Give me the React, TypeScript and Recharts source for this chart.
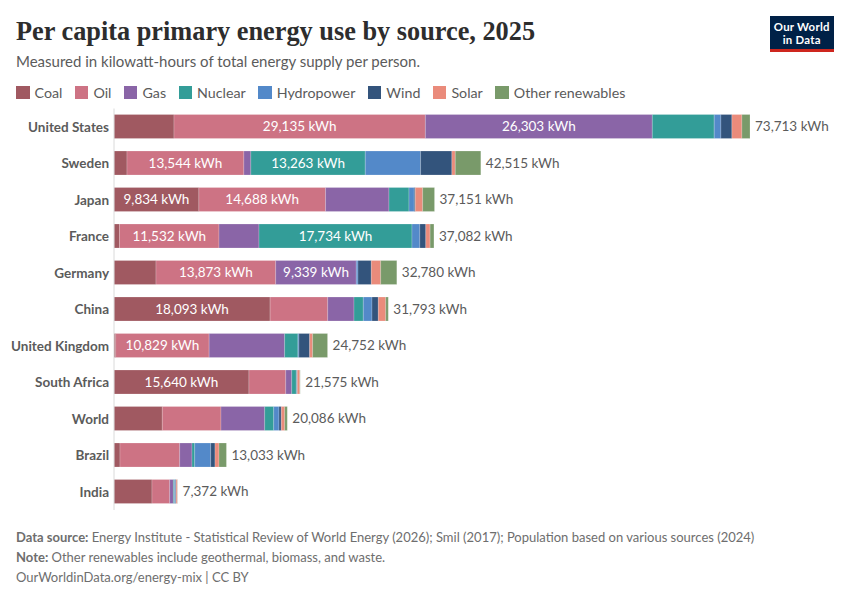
import React from "react";
import { BarChart, Bar, XAxis, YAxis, LabelList } from "recharts";

const countries = ["United States", "Sweden", "Japan", "France", "Germany", "China", "United Kingdom", "South Africa", "World", "Brazil", "India"];
const coal = [6954, 1507, 9834, 637, 4868, 18093, 197, 15640, 5598, 695, 4404];
const oil = [29135, 13544, 14688, 11532, 13873, 6676, 10829, 4265, 6803, 6919, 2051];
const gas = [26303, 811, 7348, 4636, 9339, 3048, 8751, 695, 5065, 1426, 429];
const nuclear = [7174, 13263, 2318, 17734, 0, 1078, 1541, 533, 1043, 313, 116];
const hydropower = [776, 6409, 614, 904, 197, 1008, 116, 35, 614, 1854, 116];
const wind = [1275, 3628, 116, 695, 1541, 730, 1240, 81, 267, 498, 81];
const solar = [1159, 394, 858, 498, 1089, 858, 348, 290, 394, 464, 151];
const otherRenewables = [937, 2959, 1375, 446, 1873, 302, 1730, 36, 302, 864, 24];
const totals = [73713, 42515, 37151, 37082, 32780, 31793, 24752, 21575, 20086, 13033, 7372];

const seriesNames = ["Coal", "Oil", "Gas", "Nuclear", "Hydropower", "Wind", "Solar", "Other renewables"];
const seriesValues = [coal, oil, gas, nuclear, hydropower, wind, solar, otherRenewables];
const seriesColors = ["#883039", "#C15065", "#6D3E91", "#00847E", "#286BBB", "#00295B", "#E56E5A", "#578145"];

const data = countries.map((country, i) => {
  const row: Record<string, string | number> = { country, total: totals[i] };
  seriesNames.forEach((name, s) => { row[name] = seriesValues[s][i]; });
  return row;
});

const FONT = "Lato, sans-serif";
const fmt = (v: number) => `${v.toLocaleString("en-US")} kWh`;

// segments narrower than this don't get a label
const MIN_LABELLED = 9000;

function InnerLabel({ x, y, width, height, value }: any) {
  if (!value || value < MIN_LABELLED) return null;
  return (
    <text x={x + width / 2} y={y + height / 2} dy={-0.5} textAnchor="middle" dominantBaseline="central"
      fontFamily={FONT} fontSize={13.5} fill="#fff">
      {fmt(value)}
    </text>
  );
}

function TotalLabel({ x, y, width, height, value }: any) {
  return (
    <text x={x + width + 5} y={y + height / 2} dy={-0.5} dominantBaseline="central"
      fontFamily={FONT} fontSize={13.5} fill="#5b5b5b">
      {fmt(value)}
    </text>
  );
}

function CountryTick({ x, y, payload }: any) {
  return (
    <text x={x + 6} y={y} dy={0} textAnchor="end" dominantBaseline="central"
      fontFamily={FONT} fontSize={13.5} fontWeight={700} fill="#5b5b5b">
      {payload.value}
    </text>
  );
}

export default function App() {
  return (
    <div style={{ position: "absolute", left: 0, top: 0, width: 850, height: 600, background: "#fff", fontFamily: FONT, overflow: "hidden" }}>
      <div style={{ position: "absolute", left: 16, top: 14, fontFamily: "'Liberation Serif', serif", fontWeight: 700, fontSize: 26.3, lineHeight: "36px", color: "#2d2d2d", whiteSpace: "nowrap" }}>
        Per capita primary energy use by source, 2025
      </div>
      <div style={{ position: "absolute", left: 16, top: 51, fontSize: 15, lineHeight: "20px", color: "#5b5b5b", whiteSpace: "nowrap" }}>
        Measured in kilowatt-hours of total energy supply per person.
      </div>
      <div style={{ position: "absolute", left: 769.5, top: 16, width: 64.5, height: 36, background: "#002147", borderBottom: "3px solid #ce261e", boxSizing: "border-box", color: "#fff", fontWeight: 700, fontSize: 11.4, letterSpacing: 0.25, lineHeight: "13.7px", textAlign: "center", paddingTop: 3.5 }}>
        Our World<br />in Data
      </div>
      <div style={{ position: "absolute", left: 16, top: 84, display: "flex", gap: 12.5, whiteSpace: "nowrap", color: "#5b5b5b", fontSize: 14.25, lineHeight: "17px" }}>
        {seriesNames.map((name, s) => (
          <div key={name} style={{ display: "flex", alignItems: "center", gap: 5 }}>
            <span style={{ width: 13.5, height: 13.5, background: seriesColors[s], opacity: 0.8, display: "inline-block" }} />
            {name}
          </div>
        ))}
      </div>

      <div style={{ position: "absolute", left: 0, top: 0 }}>
        <BarChart width={850} height={600} data={data} layout="vertical" barSize={24}
          margin={{ top: 108.5, right: 16, bottom: 90, left: 0 }}>
          <XAxis type="number" hide domain={[0, 83449]} />
          <YAxis type="category" dataKey="country" width={114} interval={0} tickLine={false}
            axisLine={{ stroke: "#dadada" }} tick={<CountryTick />} tickMargin={5} />
          {seriesNames.map((name, s) => (
            <Bar key={name} dataKey={name} stackId="a" fill={seriesColors[s]} fillOpacity={0.8}
              stroke="#fff" strokeOpacity={0.4} strokeWidth={0.5} isAnimationActive={false}>
              <LabelList dataKey={name} content={<InnerLabel />} />
              {s === seriesNames.length - 1 && <LabelList dataKey="total" content={<TotalLabel />} />}
            </Bar>
          ))}
        </BarChart>
      </div>

      <div style={{ position: "absolute", left: 16, top: 526.5, fontSize: 13, lineHeight: "20px", color: "#6e6e6e", whiteSpace: "nowrap" }}>
        <div><b>Data source:</b> Energy Institute - Statistical Review of World Energy (2026); Smil (2017); Population based on various sources (2024)</div>
        <div><b>Note:</b> Other renewables include geothermal, biomass, and waste.</div>
        <div>OurWorldinData.org/energy-mix | CC BY</div>
      </div>
    </div>
  );
}
